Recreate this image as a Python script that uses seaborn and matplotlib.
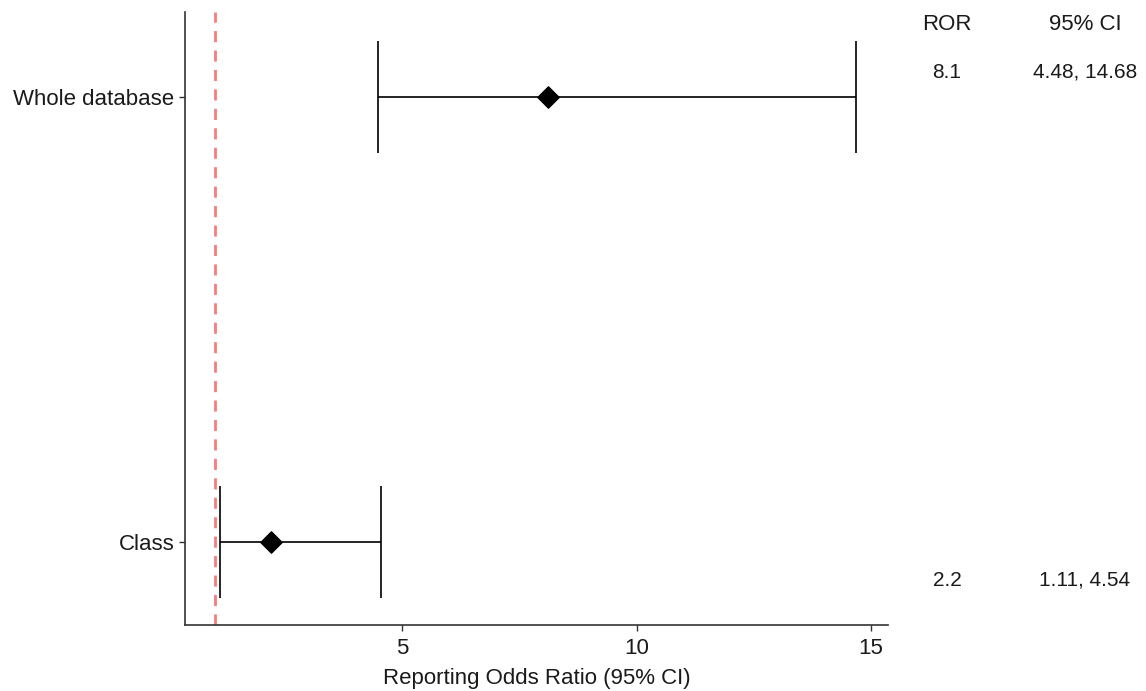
import matplotlib
matplotlib.use("Agg")
import matplotlib.pyplot as plt
import seaborn as sns
import pandas as pd

# Data
groups = ["Class", "Whole database"]
ror = [2.2, 8.1]
ci_low = [1.11, 4.48]
ci_high = [4.54, 14.68]
ror_labels = ["2.2", "8.1"]
ci_labels = ["1.11, 4.54", "4.48, 14.68"]

df = pd.DataFrame({"Group": groups, "ROR": ror, "Low": ci_low, "High": ci_high})
df["ypos"] = range(1, len(df) + 1)

sns.set_theme(style="ticks")
plt.rcParams["font.family"] = ["Liberation Sans", "DejaVu Sans"]
plt.rcParams["text.color"] = "#1a1a1a"
plt.rcParams["axes.labelcolor"] = "#1a1a1a"
plt.rcParams["xtick.labelcolor"] = "#1a1a1a"
plt.rcParams["ytick.labelcolor"] = "#1a1a1a"

fig = plt.figure(figsize=(11.46, 6.91), dpi=100)
ax = fig.add_axes([185 / 1146, 66 / 691, 703 / 1146, 613 / 691])

# reference line at ROR = 1
ax.axvline(1, color="#f87c7c", linestyle=(0, (4, 3)), linewidth=2, zorder=1)

# confidence intervals
ax.errorbar(df["ROR"], df["ypos"],
            xerr=[df["ROR"] - df["Low"], df["High"] - df["ROR"]],
            fmt="none", ecolor="black", elinewidth=1.2, capsize=40,
            capthick=1.2, zorder=2)

# point estimates
sns.scatterplot(data=df, x="ROR", y="ypos", marker="D", s=120,
                color="black", edgecolor="black", ax=ax, zorder=3, legend=False)

ax.set_xlim(0.36, 15.36)
ax.set_ylim(0.813, 2.19)
ax.set_xticks([5, 10, 15])
ax.set_yticks(df["ypos"])
ax.set_yticklabels(df["Group"])
ax.tick_params(axis="both", labelsize=16, color="#333333", length=4, width=1)
ax.tick_params(axis="x", pad=5)
ax.set_xlabel("Reporting Odds Ratio (95% CI)", fontsize=16, labelpad=7)
ax.set_ylabel("")
sns.despine(ax=ax)
for s in ["left", "bottom"]:
    ax.spines[s].set_color("#333333")
    ax.spines[s].set_linewidth(1.2)

# table columns on the right
fig.text(947 / 1146, 1 - 25 / 691, "ROR", ha="center", va="center", fontsize=16)
fig.text(1085 / 1146, 1 - 25 / 691, "95% CI", ha="center", va="center", fontsize=16)
row_y = {"Whole database": 72, "Class": 580}
for g, r, c in zip(groups, ror_labels, ci_labels):
    y = 1 - row_y[g] / 691
    fig.text(947 / 1146, y, r, ha="center", va="center", fontsize=15)
    fig.text(1085 / 1146, y, c, ha="center", va="center", fontsize=15)

fig.savefig("out.png", dpi=100)
